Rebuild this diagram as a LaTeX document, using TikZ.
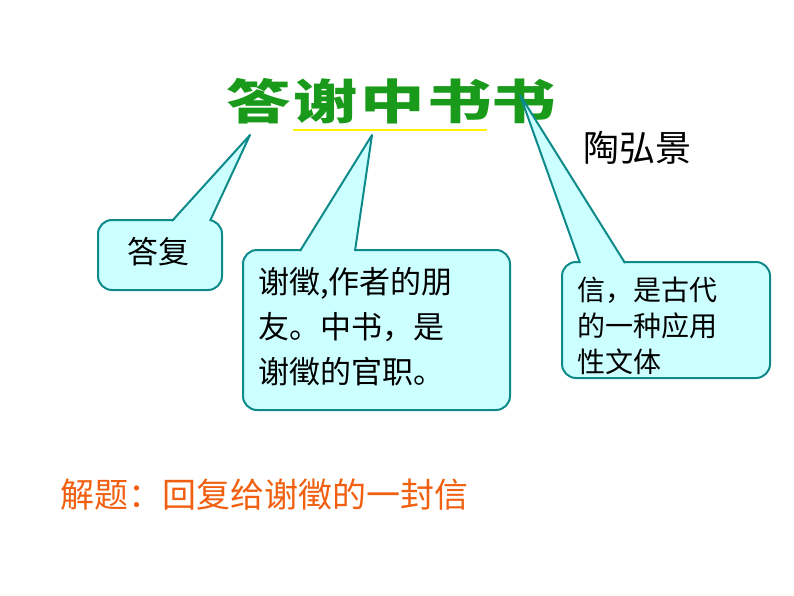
\documentclass[tikz,border=0pt]{standalone}
\usepackage{fontspec}
\newfontfamily\cjk{Noto Sans CJK SC}
\newfontfamily\cjkb{Noto Sans CJK SC Black}
\definecolor{boxfill}{HTML}{CCFFFF}
\definecolor{boxline}{HTML}{0E8A8A}
\definecolor{ttl}{HTML}{1A9A1A}
\definecolor{orng}{HTML}{F06010}
\begin{document}
\begin{tikzpicture}[x=1pt,y=-1pt,
  callbox/.style={draw=boxline,fill=boxfill,line width=2pt,rounded corners=14pt},
  ptr/.style={draw=boxline,line width=2pt},
  tchar/.style={font=\cjkb\fontsize{56}{56}\selectfont,text=ttl,inner sep=0pt,xscale=1.15,yscale=0.85}]
\useasboundingbox (0,0) rectangle (794,596);
% title
\foreach \c/\x [count=\i] in {答/259,谢/326,中/393,书/460,书/524}
  \node[tchar] (t\i) at (\x,101) {\c};
\draw[yellow,line width=2.5pt] (293,130) -- (487,130);
\node[font=\cjk\fontsize{36}{36}\selectfont,anchor=west,inner sep=0pt] (author) at (583,148) {陶弘景};
% box 1
\draw[callbox] (98,220) rectangle (222,290);
\coordinate (p1) at (250,135);
\fill[boxfill] (172,223) -- (p1) -- (210,223) -- cycle;
\draw[ptr,line join=round] (172,221) -- (p1) -- (210,221);
\node[font=\cjk\fontsize{31}{31}\selectfont,anchor=west,inner sep=0pt] (b1) at (127,252) {答复};
% box 2
\draw[callbox] (243,250) rectangle (510,410);
\coordinate (p2) at (372,135);
\fill[boxfill] (300,253) -- (p2) -- (355,253) -- cycle;
\draw[ptr,line join=round] (300,251) -- (p2) -- (355,251);
\node[font=\cjk\fontsize{31}{45}\selectfont,anchor=north west,align=left,inner sep=0pt] (b2) at (258,267) {谢徵,作者的朋\\友。中书，是\\谢徵的官职。};
% box 3
\draw[callbox] (562,262) rectangle (770,378);
\coordinate (p3) at (520,95);
\fill[boxfill] (580,265) -- (p3) -- (625,265) -- cycle;
\draw[ptr,line join=round] (580,263) -- (p3) -- (625,263);
\node[font=\cjk\fontsize{28}{36}\selectfont,anchor=north west,align=left,inner sep=0pt] (b3) at (577,277) {信，是古代\\的一种应用\\性文体};
% bottom
\node[font=\cjk\fontsize{34}{34}\selectfont,text=orng,anchor=west,inner sep=0pt] (jt) at (60,495) {解题：回复给谢徵的一封信};
\end{tikzpicture}
\end{document}
